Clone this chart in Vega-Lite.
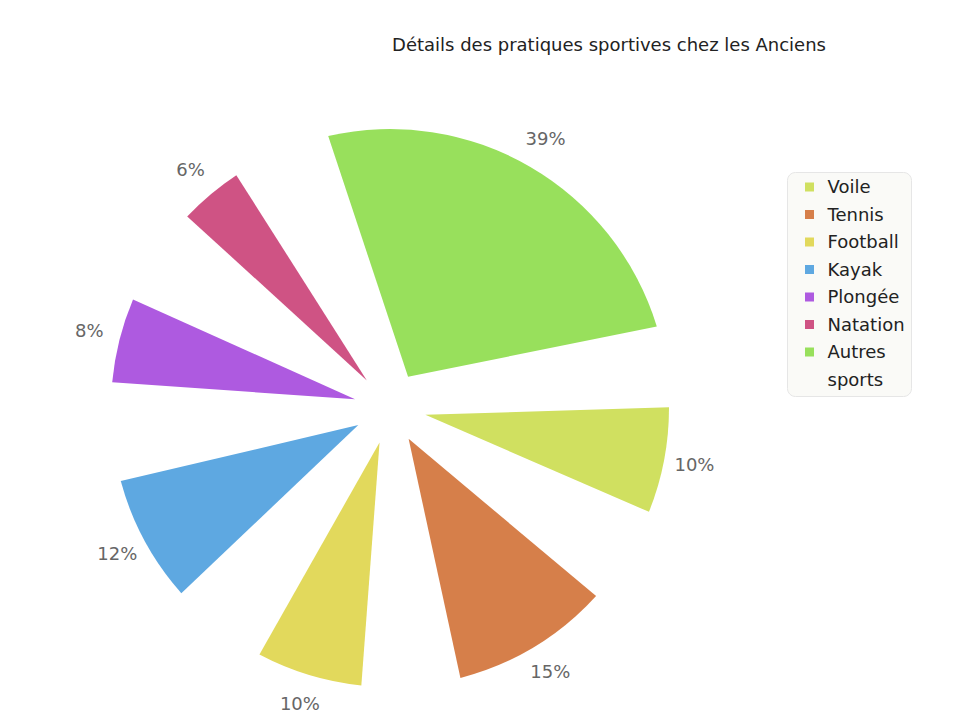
{
  "$schema": "https://vega.github.io/schema/vega-lite/v6.json",
  "width": 780,
  "height": 616,
  "autosize": "none",
  "padding": {"left": 0, "top": 100, "right": 198, "bottom": 6},
  "background": "white",
  "title": {
    "text": "Détails des pratiques sportives chez les Anciens",
    "anchor": "middle",
    "dx": 219,
    "font": "DejaVu Sans",
    "fontSize": 18,
    "fontWeight": "normal",
    "color": "#222222",
    "baseline": "alphabetic",
    "offset": 31
  },
  "config": {"view": {"stroke": null}},
  "data": {
    "values": [
      {"sport": "Voile", "pct": 10},
      {"sport": "Tennis", "pct": 15},
      {"sport": "Football", "pct": 10},
      {"sport": "Kayak", "pct": 12},
      {"sport": "Plongée", "pct": 8},
      {"sport": "Natation", "pct": 6},
      {"sport": "Autres sports", "pct": 39}
    ]
  },
  "transform": [
    {"calculate": "2.21*datum.pct+20.4", "as": "slot"},
    {"window": [{"op": "sum", "field": "slot", "as": "cum"}], "frame": [null, 0]},
    {"calculate": "79.6+datum.cum-datum.slot/2", "as": "mid"},
    {"calculate": "datum.mid-1.10*datum.pct-8.667", "as": "a0"},
    {"calculate": "datum.mid+1.10*datum.pct+8.667", "as": "a1"},
    {"calculate": "datum.pct+'%'", "as": "lbl"}
  ],
  "layer": [
    {
      "mark": {"type": "arc", "radius": 279, "radius2": 36, "padAngle": 0.3},
      "encoding": {
        "theta": {"field": "a0", "type": "quantitative", "stack": null,
          "scale": {"domain": [0, 360], "range": [0, 6.283185307179586]}},
        "theta2": {"field": "a1"},
        "color": {
          "field": "sport", "type": "nominal",
          "scale": {
            "domain": ["Voile", "Tennis", "Football", "Kayak", "Plongée", "Natation", "Autres sports"],
            "range": ["#d0e060", "#d67f4a", "#e2d95c", "#5ea8e1", "#ae5ae0", "#cf5384", "#98e05c"]
          },
          "legend": {
            "orient": "none",
            "legendX": 787,
            "legendY": 72,
            "title": null,
            "symbolType": "square",
            "symbolSize": 81,
            "symbolStrokeWidth": 0,
            "labelFont": "DejaVu Sans",
            "labelFontSize": 18,
            "labelColor": "#222222",
            "labelOffset": 9,
            "rowPadding": 8.5,
            "padding": 6,
            "symbolOffset": 7.5,
            "fillColor": "#fafaf7",
            "strokeColor": "#e6e6e6",
            "cornerRadius": 8,
            "labelBaseline": "alphabetic",
            "labelExpr": "datum.label == 'Autres sports' ? ['Autres','sports'] : datum.label",
            "encode": {
              "labels": {"update": {"dy": {"value": 6}, "lineHeight": {"value": 27.5}}}
            }
          }
        }
      }
    },
    {
      "mark": {"type": "text", "radius": 310, "font": "DejaVu Sans", "fontSize": 18, "color": "#666666"},
      "encoding": {
        "theta": {"field": "mid", "type": "quantitative", "stack": null},
        "text": {"field": "lbl"}
      }
    }
  ]
}
